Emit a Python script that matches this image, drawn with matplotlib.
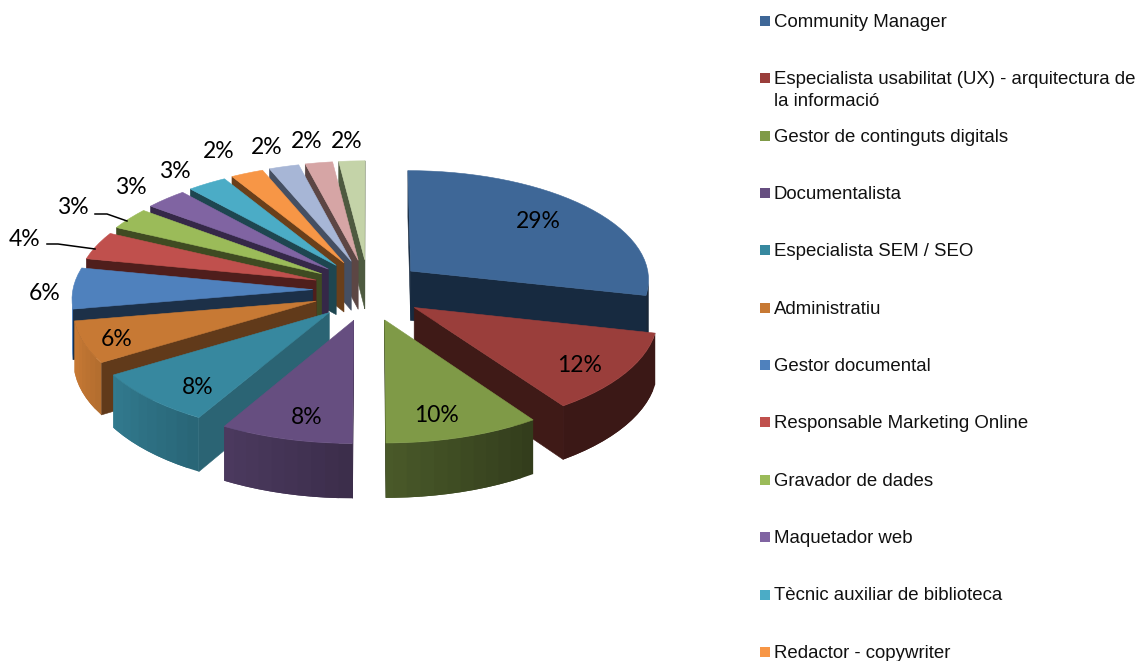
"""Exploded 3D pie of job profiles, drawn with a small perspective projection."""
import matplotlib
matplotlib.use('Agg')
import matplotlib.pyplot as plt
from matplotlib.colors import to_rgb
from matplotlib.patches import Polygon, Rectangle
import numpy as np

categories = ['Community Manager',
              'Especialista usabilitat (UX) - arquitectura de\nla informació',
              'Gestor de continguts digitals', 'Documentalista',
              'Especialista SEM / SEO', 'Administratiu', 'Gestor documental',
              'Responsable Marketing Online', 'Gravador de dades',
              'Maquetador web', 'Tècnic auxiliar de biblioteca',
              'Redactor - copywriter']
values = [28.6, 11.8, 9.6, 8.2, 7.9, 6.1, 6.0, 4.1, 3.2, 3.1, 2.9, 2.4, 2.2, 2.0, 1.9]
top_colors = ['#3E6797', '#9A3E3B', '#7F9A47', '#664E80', '#37889F', '#C77934',
              '#4F81BD', '#C0504D', '#9BBB59', '#8064A2', '#4BACC6', '#F79646',
              '#A7B6D6', '#D6A5A5', '#C4D3A8']
dark_colors = ['#172A40', '#3F1A17', '#3A4620', '#3C2C4A', '#2B6474', '#613A1A',
               '#1C3048', '#4F1E1C', '#3F4B22', '#352848', '#1E4650', '#6A3F1A',
               '#454F62', '#5C4644', '#4E5A40']

# projection settings, in pixels of the 1138x661 canvas
CX, CY = 368, 290
RX, RY = 240, 110
PERSP = 0.07
EXPLODE_X, EXPLODE_Y = 0.23, 0.28
THICK = 50

LABEL_POS = [(538, 222), (580, 365), (436, 415), (307, 417), (198, 387), (117, 339),
             (45, 294), (25, 240), (73, 208), (131, 187), (175, 171), (219, 151),
             (267, 147), (307, 142), (347, 142)]


def project(x, y, z=0.0):
    s = 1.0 / (1.0 + PERSP * np.asarray(y))
    return np.column_stack([CX + x * RX * s, CY - y * RY * s + z * THICK * s])


def area(pts):
    x, y = pts[:, 0], pts[:, 1]
    return 0.5 * np.sum(x * np.roll(y, -1) - np.roll(x, -1) * y)


def wall_shade(a):
    # outer rim goes from nearly black on the right to almost lit on the left
    return float(np.clip(0.58 + (a - 180) * 0.0055, 0.38, 1.0))


def face(ax, pts, color, z, lw=0.4):
    ax.add_patch(Polygon(pts, closed=True, facecolor=color, edgecolor=color if lw else 'none',
                         lw=lw, zorder=z))


fig = plt.figure(figsize=(11.38, 6.61), dpi=100)
ax = fig.add_axes([0, 0, 1, 1])
ax.set_xlim(0, 1138)
ax.set_ylim(661, 0)
ax.axis('off')

vals = np.array(values)
edges = np.concatenate([[0], np.cumsum(vals)]) / vals.sum() * 360
mids = (edges[:-1] + edges[1:]) / 2
order = np.argsort(-np.cos(np.radians(mids)))

z = 1
for i in order:
    a0, a1 = edges[i], edges[i + 1]
    ox = EXPLODE_X * np.sin(np.radians(mids[i]))
    oy = EXPLODE_Y * np.cos(np.radians(mids[i]))
    angs = np.arange(a0, a1, 3.0)
    angs = np.append(angs, a1)
    ax_x = ox + np.sin(np.radians(angs))
    ax_y = oy + np.cos(np.radians(angs))
    rim_top = project(ax_x, ax_y)
    rim_bot = project(ax_x, ax_y, 1.0)
    tip_top = project(np.array([ox]), np.array([oy]))
    tip_bot = project(np.array([ox]), np.array([oy]), 1.0)

    # radial walls, only the ones turned to the viewer
    start = np.vstack([tip_top, rim_top[:1], rim_bot[:1], tip_bot])
    end = np.vstack([tip_top, tip_bot, rim_bot[-1:], rim_top[-1:]])
    for wall in (start, end):
        if area(wall) < 0:
            face(ax, wall, dark_colors[i], z)
            z += 1

    # outer rim in strips for the shading, each one lies over the seam of the last
    base = np.array(to_rgb(top_colors[i]))
    for k in range(len(angs) - 1):
        j = min(k + 2, len(angs) - 1)
        strip = np.vstack([rim_top[k], rim_top[k + 1:j + 1], rim_bot[k + 1:j + 1][::-1], rim_bot[k]])
        if area(strip) < 0:
            face(ax, strip, tuple(base * wall_shade((angs[k] + angs[k + 1]) / 2)), z, lw=0)
            z += 1

    face(ax, np.vstack([tip_top, rim_top]), top_colors[i], z)
    z += 1

for v, (x, y) in zip(values, LABEL_POS):
    ax.text(x, y, f'{round(v)}%', ha='center', va='center', fontsize=16.5,
            family=['Lato', 'DejaVu Sans'], color='black', zorder=2000)

# leader lines of the two labels pushed away from their slices
ax.plot([47, 58, 95], [244, 244, 249], color='black', lw=1.1, zorder=1500)
ax.plot([95, 107, 127], [214, 214, 221], color='black', lw=1.1, zorder=1500)

# legend, it runs off the bottom of the picture in the original too
for i, name in enumerate(categories):
    y = 21 + 57.35 * i
    ax.add_patch(Rectangle((760, y - 5), 10, 10, facecolor=top_colors[i], edgecolor='none', zorder=2000))
    for n, line in enumerate(name.split('\n')):
        ax.text(774, y + 6 + 22 * n, line, ha='left', va='baseline', fontsize=13.4,
                family='Liberation Sans', color='#111111', zorder=2000)

plt.savefig('out.png', dpi=100)
